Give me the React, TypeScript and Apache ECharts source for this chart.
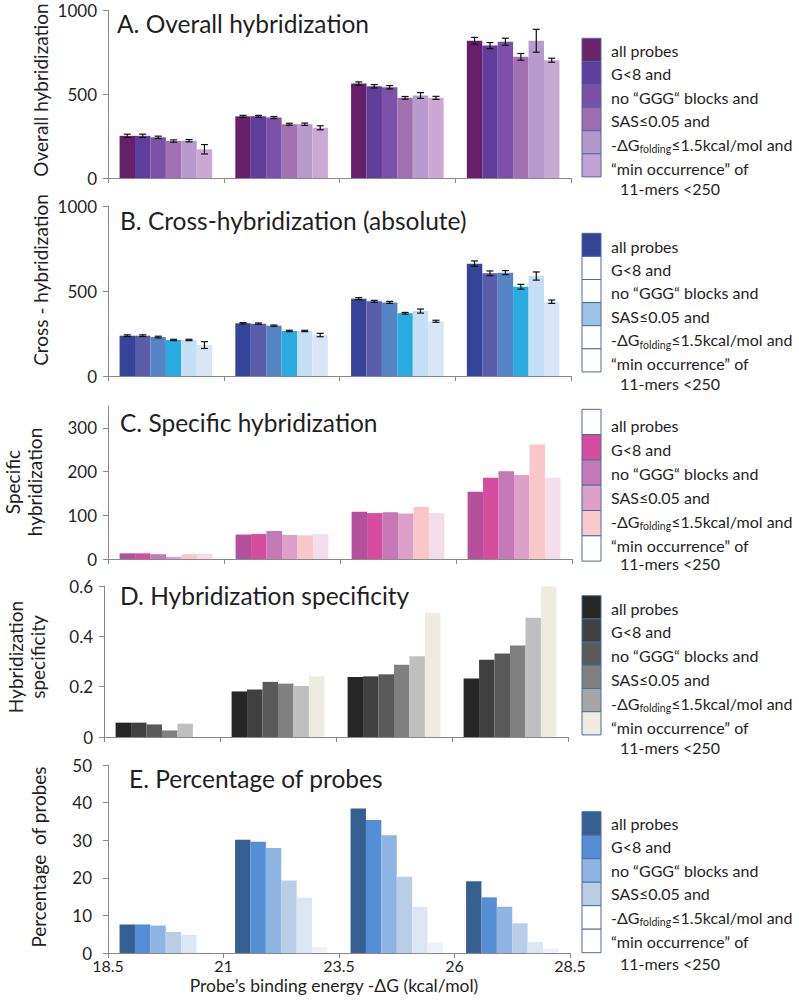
import React, { useEffect, useRef } from 'react';
import * as echarts from 'echarts';

// ---------- data ----------
const categories = ['18.5–21', '21–23.5', '23.5–26', '26–28.5'];
const energyTickLabels = ['18.5', '21', '23.5', '26', '28.5'];
const filterNames = [
  'all probes',
  'G<8',
  'no GGG blocks',
  'SAS≤0.05',
  '-ΔGfolding≤1.5kcal/mol',
  'min occurrence of 11-mers <250',
];
const legendLabels = [
  'all probes',
  'G<8 and',
  'no “GGG“ blocks and',
  'SAS≤0.05 and',
  '-ΔG{sub|folding}≤1.5kcal/mol and',
  '“min occurrence” of',
];
const legendTail = '11-mers <250';

// A. Overall hybridization (rows = filters, cols = energy bins)
const overallHyb = [
  [251, 367, 562, 817],
  [251, 367, 546, 788],
  [242, 360, 540, 811],
  [220, 320, 477, 721],
  [222, 320, 491, 817],
  [171, 299, 477, 701],
];
const overallErr = [
  [10, 6, 10, 20],
  [10, 6, 10, 18],
  [7, 6, 10, 21],
  [7, 6, 8, 20],
  [7, 7, 17, 68],
  [28, 12, 9, 12],
];
// B. Cross-hybridization
const crossHyb = [
  [237, 310, 455, 661],
  [237, 308, 439, 604],
  [229, 296, 433, 608],
  [212, 265, 369, 525],
  [212, 265, 382, 588],
  [182, 241, 322, 437],
];
const crossErr = [
  [5, 4, 6, 16],
  [5, 4, 6, 14],
  [5, 4, 6, 12],
  [4, 4, 5, 14],
  [4, 4, 12, 24],
  [20, 10, 6, 10],
];
// C. Specific hybridization
const specificHyb = [
  [13, 56, 108, 154],
  [13, 57, 105, 186],
  [11, 64, 107, 201],
  [5, 55, 104, 192],
  [11, 54, 119, 262],
  [12, 57, 105, 186],
];
// D. Hybridization specificity
const hybSpecificity = [
  [0.057, 0.181, 0.238, 0.232],
  [0.057, 0.189, 0.241, 0.307],
  [0.05, 0.219, 0.249, 0.332],
  [0.026, 0.212, 0.287, 0.364],
  [0.053, 0.203, 0.321, 0.474],
  [0, 0.241, 0.494, 0.599],
];
// E. Percentage of probes
const probePercent = [
  [7.6, 30.1, 38.4, 19.1],
  [7.6, 29.6, 35.4, 14.8],
  [7.3, 27.9, 31.3, 12.3],
  [5.6, 19.3, 20.3, 7.9],
  [4.8, 14.7, 12.3, 2.9],
  [0.2, 1.6, 2.8, 1.2],
];
const specificTicks = [0, 100, 200, 300];

// ---------- styles ----------
const FONT = 'Lato, "Open Sans", sans-serif';
const TXT = '#1f1f1f';
const AXC = '#8a8a8a';

const barColors = [
  ['#66206A', '#5F3F9A', '#7B52A8', '#A070B0', '#B79BCE', '#CBA9D5'],
  ['#354499', '#5A5DA9', '#5584C4', '#29ABE2', '#C5E0F5', '#D9E5F4'],
  ['#B5509C', '#D54D9C', '#C478B4', '#DDA0C9', '#F9C6C9', '#F4DDEB'],
  ['#262626', '#404040', '#595959', '#808080', '#BFBFBF', '#EEECE1'],
  ['#376092', '#558ED5', '#8EB4E3', '#B9CDE5', '#DCE6F2', '#EEF2F8'],
];
const legendFills = [
  ['#69246A', '#5E3D9B', '#7950A6', '#9D6DB1', '#B597CC', '#C0A2D4'],
  ['#354499', '#FFFFFF', '#FFFFFF', '#9CC3E6', '#FFFFFF', '#FFFFFF'],
  ['#FFFFFF', '#D54D9C', '#C478B4', '#DDA0C9', '#F9C9CB', '#FFFFFF'],
  ['#262626', '#404040', '#595959', '#808080', '#A6A6A6', '#EEECE1'],
  ['#376092', '#558ED5', '#8EB4E3', '#B9CDE5', '#FFFFFF', '#FFFFFF'],
];

const grids = [
  { left: 108, top: 10, width: 463, height: 168 },
  { left: 108, top: 206, width: 463, height: 170 },
  { left: 108, top: 406, width: 464, height: 153 },
  { left: 104, top: 586, width: 464, height: 151 },
  { left: 108, top: 765, width: 462, height: 188 },
];
const yLabelMargins = [11, 11, 11, 11, 16];
const panelTitles = [
  { text: 'A. Overall hybridization', x: 117, y: 23 },
  { text: 'B. Cross-hybridization (absolute)', x: 120, y: 220 },
  { text: 'C. Specific hybridization', x: 120, y: 422 },
  { text: 'D. Hybridization specificity', x: 120, y: 595 },
  { text: 'E. Percentage of probes', x: 129, y: 778 },
];
const axisNames = [
  { text: 'Overall hybridization', x: 40, y: 90 },
  { text: 'Cross - hybridization', x: 40, y: 280 },
  { text: 'Specific\nhybridization', x: 23, y: 482 },
  { text: 'Hybridization\nspecificity', x: 26, y: 657 },
  { text: 'Percentage  of probes', x: 38, y: 857 },
];
const legendLayout = [
  { top: 38.3, swH: 23.1, y0: 50, step: 23.6, tail: 188.5 },
  { top: 233.3, swH: 23.1, y0: 246, step: 23.4, tail: 383.5 },
  { top: 409.3, swH: 25.3, y0: 425, step: 24, tail: 563 },
  { top: 595.7, swH: 23.2, y0: 608, step: 23.8, tail: 747 },
  { top: 811.7, swH: 23.5, y0: 823, step: 23.6, tail: 963 },
];

const axisLabelStyle = { fontFamily: FONT, fontSize: 17, color: TXT, margin: 11 };

function buildOption() {
  const panelData = [overallHyb, crossHyb, specificHyb, hybSpecificity, probePercent];
  const errData = [overallErr, crossErr, null, null, null];
  const yCfg = [
    { max: 1000, interval: 500 },
    { max: 1000, interval: 500 },
    { max: 350, custom: specificTicks },
    { max: 0.6, interval: 0.2 },
    { max: 50, interval: 10 },
  ];

  const xAxis: any[] = grids.map((_, i) => ({
    type: 'category',
    gridIndex: i,
    data: categories,
    axisLine: { lineStyle: { color: AXC, width: 1 } },
    axisTick: { show: true, length: 5, lineStyle: { color: AXC } },
    axisLabel: { show: false },
    splitLine: { show: false },
  }));
  xAxis.push({
    type: 'value',
    gridIndex: 4,
    min: 0,
    max: 4,
    interval: 1,
    position: 'bottom',
    axisLine: { show: false },
    axisTick: { show: false },
    splitLine: { show: false },
    axisLabel: {
      ...axisLabelStyle,
      fontSize: 16,
      margin: 4,
      formatter: (v: number) => energyTickLabels[Math.round(v)] ?? '',
    },
  });

  const yAxis: any[] = yCfg.map((c, i) => {
    const ax: any = {
      type: 'value',
      gridIndex: i,
      min: 0,
      max: c.max,
      axisLine: { show: true, lineStyle: { color: AXC, width: 1 } },
      axisTick: { show: true, length: 5, lineStyle: { color: AXC } },
      splitLine: { show: false },
      axisLabel: { ...axisLabelStyle, margin: yLabelMargins[i], formatter: (v: number) => String(v) },
    };
    if (c.custom) {
      ax.axisLabel.customValues = c.custom;
      ax.axisTick.customValues = c.custom;
    } else {
      ax.interval = c.interval;
    }
    return ax;
  });

  const series: any[] = [];
  panelData.forEach((rows, p) => {
    rows.forEach((vals, s) => {
      series.push({
        type: 'bar',
        name: filterNames[s],
        xAxisIndex: p,
        yAxisIndex: p,
        data: vals,
        barGap: '0%',
        barCategoryGap: '20%',
        itemStyle: { color: barColors[p][s] },
        silent: true,
      });
    });
    const errs = errData[p];
    if (errs) {
      rows.forEach((vals, s) => {
        series.push({
          type: 'custom',
          xAxisIndex: p,
          yAxisIndex: p,
          z: 10,
          silent: true,
          data: vals.map((v, c) => [c, v, errs[s][c]]),
          encode: { x: 0, y: 1 },
          renderItem: (params: any, api: any) => {
            const c = api.value(0);
            const v = api.value(1);
            const e = api.value(2);
            const center = api.coord([c, v]);
            const band = api.size([1, 0])[0];
            const bw = (band * 0.8) / 6;
            const x = center[0] - band * 0.4 + bw * (s + 0.5);
            const top = api.coord([c, v + e])[1];
            const bot = api.coord([c, v - e])[1];
            const cap = 3.5;
            const st = { stroke: '#111', lineWidth: 1.2 };
            return {
              type: 'group',
              children: [
                { type: 'line', shape: { x1: x, y1: top, x2: x, y2: bot }, style: st },
                { type: 'line', shape: { x1: x - cap, y1: top, x2: x + cap, y2: top }, style: st },
                { type: 'line', shape: { x1: x - cap, y1: bot, x2: x + cap, y2: bot }, style: st },
              ],
            };
          },
        });
      });
    }
  });

  const graphic: any[] = [];
  panelTitles.forEach((t) => {
    graphic.push({
      type: 'text',
      x: t.x,
      y: t.y,
      silent: true,
      style: { text: t.text, fontFamily: FONT, fontSize: 24.5, fill: TXT, align: 'left', verticalAlign: 'middle' },
    });
  });
  axisNames.forEach((t) => {
    graphic.push({
      type: 'text',
      x: t.x,
      y: t.y,
      rotation: Math.PI / 2,
      silent: true,
      style: {
        text: t.text,
        fontFamily: FONT,
        fontSize: 19,
        lineHeight: 22,
        fill: TXT,
        align: 'center',
        verticalAlign: 'middle',
      },
    });
  });
  graphic.push({
    type: 'text',
    x: 334,
    y: 985,
    silent: true,
    style: {
      text: 'Probe’s binding energy -ΔG (kcal/mol)',
      fontFamily: FONT,
      fontSize: 17.5,
      fill: TXT,
      align: 'center',
      verticalAlign: 'middle',
    },
  });
  legendLayout.forEach((L, p) => {
    legendFills[p].forEach((f, i) => {
      graphic.push({
        type: 'rect',
        silent: true,
        shape: { x: 582, y: L.top + i * L.swH, width: 19, height: L.swH },
        style: { fill: f, stroke: '#4C6A98', lineWidth: 1 },
      });
    });
    legendLabels.forEach((lab, i) => {
      graphic.push({
        type: 'text',
        silent: true,
        x: 611,
        y: L.y0 + i * L.step,
        style: {
          text: lab,
          fontFamily: FONT,
          fontSize: 16,
          fill: TXT,
          align: 'left',
          verticalAlign: 'middle',
          rich: {
            sub: { fontFamily: FONT, fontSize: 10.5, fill: TXT, padding: [10, 0, 0, 0] },
          },
        },
      });
    });
    graphic.push({
      type: 'text',
      silent: true,
      x: 620,
      y: L.tail,
      style: { text: legendTail, fontFamily: FONT, fontSize: 16, fill: TXT, align: 'left', verticalAlign: 'middle' },
    });
  });

  return {
    animation: false,
    backgroundColor: '#ffffff',
    textStyle: { fontFamily: FONT },
    grid: grids.map((g) => ({ ...g, containLabel: false })),
    xAxis,
    yAxis,
    series,
    graphic,
  };
}

export default function App() {
  const ref = useRef<HTMLDivElement>(null);
  useEffect(() => {
    document.body.style.margin = '0';
    if (!ref.current) return;
    const chart = echarts.init(ref.current, null, { renderer: 'svg' });
    chart.setOption(buildOption() as any);
    return () => chart.dispose();
  }, []);
  return <div ref={ref} style={{ width: 799, height: 1004, background: '#fff' }} />;
}
